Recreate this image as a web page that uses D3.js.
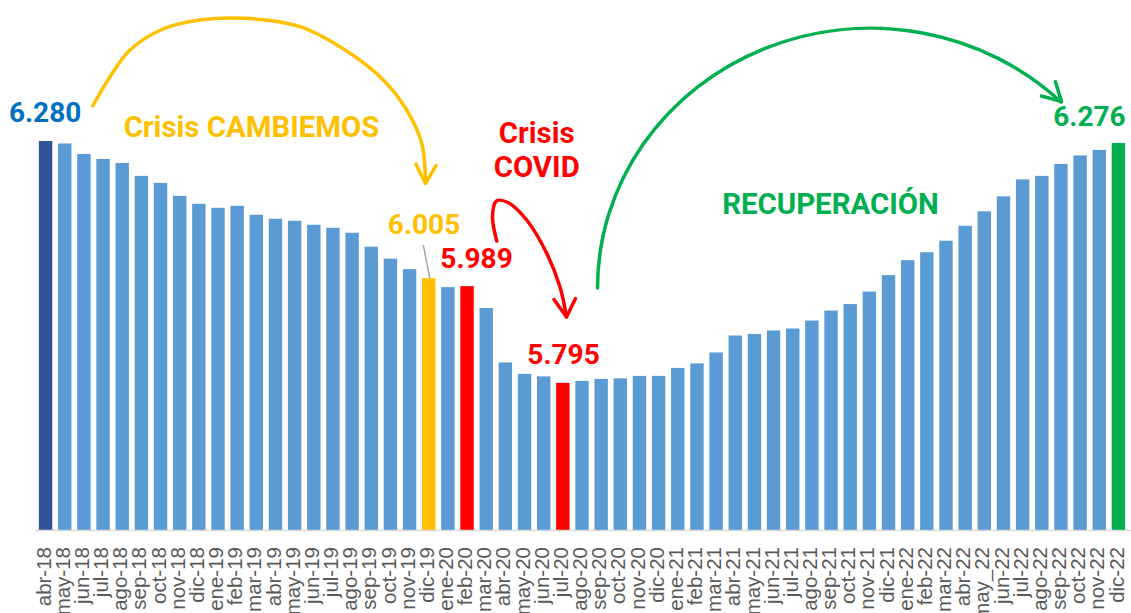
<!DOCTYPE html>
<html>
<head>
<meta charset="utf-8">
<script src="https://cdn.jsdelivr.net/npm/d3@7"></script>
<style>
  body { margin: 0; background: #fff; }
  svg { display: block; }
</style>
</head>
<body>
<div id="chart"></div>
<script>
//data
const months = [
    "abr-18","may-18","jun-18","jul-18","ago-18","sep-18","oct-18","nov-18","dic-18",
    "ene-19","feb-19","mar-19","abr-19","may-19","jun-19","jul-19","ago-19","sep-19","oct-19","nov-19","dic-19",
    "ene-20","feb-20","mar-20","abr-20","may-20","jun-20","jul-20","ago-20","sep-20","oct-20","nov-20","dic-20",
    "ene-21","feb-21","mar-21","abr-21","may-21","jun-21","jul-21","ago-21","sep-21","oct-21","nov-21","dic-21",
    "ene-22","feb-22","mar-22","abr-22","may_22","jun-22","jul-22","ago-22","sep-22","oct-22","nov-22","dic-22"
];
// thousands (miles de empresas / empleadores)
const values = [
    6.280, 6.275, 6.254, 6.244, 6.236, 6.210, 6.196, 6.170, 6.154,
    6.146, 6.150, 6.132, 6.124, 6.120, 6.112, 6.106, 6.096, 6.068, 6.044, 6.023, 6.005,
    5.987, 5.989, 5.945, 5.836, 5.813, 5.808, 5.795, 5.799, 5.803, 5.804, 5.809, 5.809,
    5.825, 5.834, 5.856, 5.890, 5.893, 5.900, 5.904, 5.920, 5.940, 5.953, 5.978, 6.011,
    6.041, 6.057, 6.080, 6.110, 6.139, 6.169, 6.203, 6.210, 6.234, 6.251, 6.262, 6.276
];
const highlightMonths = ["abr-18", "dic-19", "feb-20", "jul-20", "dic-22"];
const highlightColours = ["#2F5597", "#FFC000", "#FF0000", "#FF0000", "#00B050"];

//dimensions
const width = 1131;
const height = 613;
const baseY = 530;

const COLOURS = {
    bar: "#5B9BD5",
    axis: "#D9D9D9",
    tick: "#595959",
    blue: "#0070C0",
    yellow: "#FFC000",
    red: "#FF0000",
    green: "#00B050",
    leader: "#A6A6A6"
};

const svg = d3.select("#chart").append("svg")
    .attr("width", width)
    .attr("height", height);

//scales
const x = d3.scaleBand()
    .domain(months)
    .range([36, 1128])
    .paddingInner(0.3)
    .paddingOuter(0.15);

const y = d3.scaleLinear()
    .domain([5.5, 6.3])
    .range([baseY, 131]);

const colourFor = m => {
    const i = highlightMonths.indexOf(m);
    return i === -1 ? COLOURS.bar : highlightColours[i];
};

const data = months.map((m, i) => ({ month: m, value: values[i] }));
const byMonth = new Map(data.map(d => [d.month, d]));
const cx = m => x(m) + x.bandwidth() / 2;
const barTop = m => y(byMonth.get(m).value);

//bars
svg.append("g")
    .attr("class", "bars")
    .selectAll("rect")
    .data(data)
    .enter()
    .append("rect")
        .attr("x", d => x(d.month))
        .attr("y", d => y(d.value))
        .attr("width", x.bandwidth())
        .attr("height", d => baseY - y(d.value))
        .attr("fill", d => colourFor(d.month));

//axis
const xAxis = d3.axisBottom(x).tickSize(0).tickPadding(0);
const axisG = svg.append("g")
    .attr("transform", "translate(0," + baseY + ")")
    .call(xAxis);
axisG.select(".domain")
    .attr("d", "M35,0.5H" + width)
    .attr("stroke", COLOURS.axis)
    .attr("stroke-width", 1.5);
axisG.selectAll(".tick text")
    .attr("transform", "translate(0,17) rotate(-90)")
    .attr("x", 0)
    .attr("y", 0)
    .attr("dy", "0.25em")
    .attr("text-anchor", "end")
    .style("font-family", "'Liberation Sans', Arial, sans-serif")
    .style("font-size", "20.5px")
    .attr("fill", COLOURS.tick);

//annotations
const ann = svg.append("g")
    .attr("class", "annotations")
    .style("font-family", "Roboto, 'Noto Sans', sans-serif")
    .style("font-weight", "bold")
    .style("font-size", "28px")
    .attr("text-anchor", "middle");

const fmt = d3.format(".3f");

const valueLabels = [
    { month: "abr-18", colour: COLOURS.blue, dx: -0.5, dy: -19.3 },
    { month: "dic-19", colour: COLOURS.yellow, dx: -4.7, dy: -43.7 },
    { month: "feb-20", colour: COLOURS.red, dx: 9.5, dy: -18.6 },
    { month: "jul-20", colour: COLOURS.red, dx: 0.7, dy: -18.7 },
    { month: "dic-22", colour: COLOURS.green, dx: -29, dy: -17 }
];
ann.selectAll("text.value")
    .data(valueLabels)
    .enter()
    .append("text")
        .attr("class", "value")
        .attr("x", d => cx(d.month) + d.dx)
        .attr("y", d => barTop(d.month) + d.dy)
        .attr("fill", d => d.colour)
        .text(d => fmt(byMonth.get(d.month).value));

const titles = [
    { text: "Crisis CAMBIEMOS", x: 251.5, y: 136.7, colour: COLOURS.yellow },
    { text: "Crisis", x: 536.7, y: 142.7, colour: COLOURS.red },
    { text: "COVID", x: 536.7, y: 177.3, colour: COLOURS.red },
    { text: "RECUPERACIÓN", x: 830.5, y: 214.3, colour: COLOURS.green }
];
ann.selectAll("text.title")
    .data(titles)
    .enter()
    .append("text")
        .attr("class", "title")
        .attr("x", d => d.x)
        .attr("y", d => d.y)
        .attr("fill", d => d.colour)
        .style("font-size", "29.4px")
        .text(d => d.text);

//leader line for 6.005
svg.append("line")
    .attr("x1", 423.3).attr("y1", 245)
    .attr("x2", cx("dic-19") + 1).attr("y2", barTop("dic-19"))
    .attr("stroke", COLOURS.leader)
    .attr("stroke-width", 1.5);

//arrows
const curve = d3.line().curve(d3.curveCatmullRom);
const arrowsG = svg.append("g")
    .attr("fill", "none")
    .attr("stroke-width", 3.5)
    .attr("stroke-linecap", "round")
    .attr("stroke-linejoin", "round");

const drawArrow = (pathD, head, colour) => {
    arrowsG.append("path")
        .attr("d", pathD)
        .attr("stroke", colour);
    arrowsG.append("path")
        .attr("d", "M" + head[1] + "L" + head[0] + "L" + head[2])
        .attr("stroke", colour);
};

const yellowPts = [[92.7,106],[110,76.7],[130,50],[163,29],[200,20],[245,18.3],[300,26.7],
    [350,53.3],[383.3,80],[406.7,110],[421.7,143.3],[425.5,183]];
drawArrow(curve(yellowPts), [[425.5,183.5],[416,164.3],[436,165.7]], COLOURS.yellow);

const redPts = [[496.7,241],[492.5,216],[496.5,201],[508,202.5],[526.7,220],[546.7,253.3],[560,287],[566.5,317]];
drawArrow(curve(redPts), [[566.5,317],[554,299.5],[575.5,298.5]], COLOURS.red);

drawArrow("M597.5,288A273,260 0 0 1 1061,102", [[1061.5,101.5],[1055.4,81.7],[1041.4,96]], COLOURS.green);
</script>
</body>
</html>
